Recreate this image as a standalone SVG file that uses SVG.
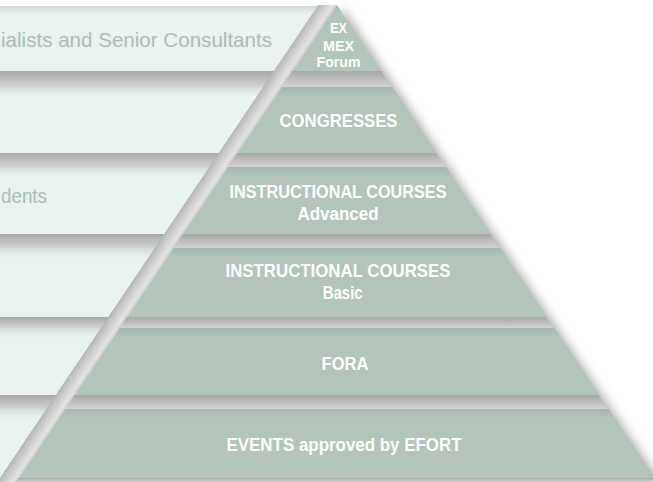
<svg xmlns="http://www.w3.org/2000/svg" width="653" height="482" viewBox="0 0 653 482">
  <style>
    .band { fill: url(#bandGrad); }
    .tier { fill: url(#tierGrad); }
    .btxt { font-family: "Liberation Sans", Arial, sans-serif; font-size: 21px; fill: #a8beb3; }
    .ttxt { font-family: "Liberation Sans", Arial, sans-serif; font-weight: bold; font-size: 18px; fill: #ffffff; text-anchor: middle; }
    .small { font-size: 14.5px; }
    .gap { fill: url(#gapGrad); }
  </style>
  <defs>
    <linearGradient id="bandGrad" x1="0" y1="0" x2="0" y2="1">
      <stop offset="0" stop-color="#d3dbda"/>
      <stop offset="0.13" stop-color="#e8f2f1"/>
      <stop offset="1" stop-color="#eaf3f2"/>
    </linearGradient>
    <linearGradient id="tierGrad" x1="0" y1="0" x2="0" y2="1">
      <stop offset="0" stop-color="#a5b6ac"/>
      <stop offset="0.12" stop-color="#b2c4b9"/>
      <stop offset="1" stop-color="#b3c5ba"/>
    </linearGradient>
    <linearGradient id="gapGrad" x1="0" y1="0" x2="0" y2="1">
      <stop offset="0" stop-color="#a7a7a7"/>
      <stop offset="0.6" stop-color="#c4c4c4"/>
      <stop offset="1" stop-color="#d6d6d6"/>
    </linearGradient>
    <linearGradient id="diagGrad" gradientUnits="userSpaceOnUse" x1="318" y1="5" x2="331.1" y2="13.8">
      <stop offset="0" stop-color="#b6b6b6"/>
      <stop offset="0.45" stop-color="#d2d2d2"/>
      <stop offset="0.8" stop-color="#e4e4e4"/>
      <stop offset="1" stop-color="#cacaca"/>
    </linearGradient>
    <clipPath id="leftClip">
      <polygon points="0,5 337,5 656.6,482 0,482"/>
    </clipPath>
    <filter id="blur" x="-20%" y="-20%" width="140%" height="140%">
      <feGaussianBlur stdDeviation="5"/>
    </filter>
  </defs>

  <!-- soft shadow of the pyramid -->
  <polygon points="337,5 657,482 17,482" transform="translate(7,4)" fill="#7a7a7a" opacity="0.55" filter="url(#blur)"/>

  <!-- gaps between the rows -->
  <g clip-path="url(#leftClip)">
    <rect class="gap" x="0" y="71" width="653" height="17"/>
    <rect class="gap" x="0" y="153" width="653" height="15"/>
    <rect class="gap" x="0" y="234" width="653" height="15"/>
    <rect class="gap" x="0" y="317" width="653" height="12"/>
    <rect class="gap" x="0" y="395" width="653" height="15"/>
    <rect class="gap" x="0" y="478" width="653" height="4"/>
  </g>
  <!-- diagonal gap between bands and pyramid -->
  <polygon points="318,5 337,5 16,482 -3,482" fill="url(#diagGrad)"/>

  <!-- background bands -->
  <g id="band1">
    <polygon class="band" points="0,6 317.4,6 273.6,71 0,71"/>
    <text class="btxt" x="1" y="46.7" textLength="271" lengthAdjust="spacingAndGlyphs">ialists and Senior Consultants</text>
  </g>
  <g id="band2">
    <polygon class="band" points="0,87 262.8,87 218.4,153 0,153"/>
  </g>
  <g id="band3">
    <polygon class="band" points="0,167 209,167 163.9,234 0,234"/>
    <text class="btxt" x="1" y="203" textLength="46" lengthAdjust="spacingAndGlyphs">dents</text>
  </g>
  <g id="band4">
    <polygon class="band" points="0,248 154.5,248 108,317 0,317"/>
  </g>
  <g id="band5">
    <polygon class="band" points="0,328 100.6,328 55.5,395 0,395"/>
  </g>
  <g id="band6">
    <polygon class="band" points="0,409 46.1,409 -0.3,478 0,478"/>
  </g>

  <!-- pyramid tiers -->
  <g id="tier-exmex">
    <polygon class="tier" points="337,5 381.4,71 292.6,71"/>
    <text class="ttxt small" x="338.5" y="33" textLength="17" lengthAdjust="spacingAndGlyphs">EX</text>
    <text class="ttxt small" x="338.5" y="50.5" textLength="31" lengthAdjust="spacingAndGlyphs">MEX</text>
    <text class="ttxt small" x="338.5" y="66.5" textLength="44" lengthAdjust="spacingAndGlyphs">Forum</text>
  </g>
  <g id="tier-congresses">
    <polygon class="tier" points="281.8,87 392.2,87 436.6,153 237.4,153"/>
    <text class="ttxt" x="338.5" y="126.5" textLength="118" lengthAdjust="spacingAndGlyphs">CONGRESSES</text>
  </g>
  <g id="tier-ic-advanced">
    <polygon class="tier" points="228,167 446,167 491.1,234 182.9,234"/>
    <text class="ttxt" x="338" y="198.3" textLength="217" lengthAdjust="spacingAndGlyphs">INSTRUCTIONAL COURSES</text>
    <text class="ttxt" x="338" y="220" textLength="81" lengthAdjust="spacingAndGlyphs">Advanced</text>
  </g>
  <g id="tier-ic-basic">
    <polygon class="tier" points="173.5,248 500.5,248 547,317 127,317"/>
    <text class="ttxt" x="338" y="276.7" textLength="225" lengthAdjust="spacingAndGlyphs">INSTRUCTIONAL COURSES</text>
    <text class="ttxt" x="342.7" y="299.3" textLength="40" lengthAdjust="spacingAndGlyphs">Basic</text>
  </g>
  <g id="tier-fora">
    <polygon class="tier" points="119.6,328 554.4,328 599.5,395 74.5,395"/>
    <text class="ttxt" x="345" y="370" textLength="47" lengthAdjust="spacingAndGlyphs">FORA</text>
  </g>
  <g id="tier-events">
    <polygon class="tier" points="65.1,409 608.9,409 655.3,478 18.7,478"/>
    <text class="ttxt" x="344" y="451" textLength="235" lengthAdjust="spacingAndGlyphs">EVENTS approved by EFORT</text>
  </g>
</svg>
